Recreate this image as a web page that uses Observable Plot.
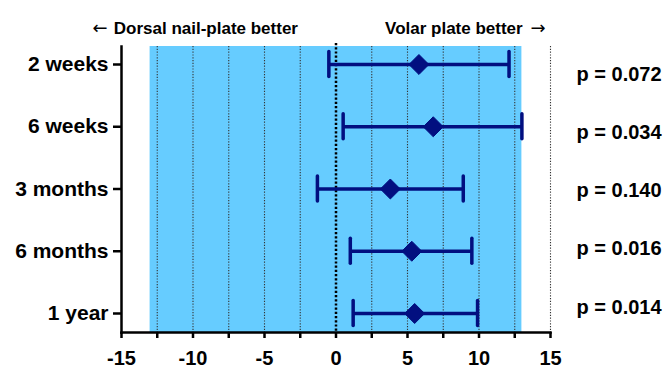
<!DOCTYPE html>
<html>
<head>
<meta charset="utf-8">
<script src="https://cdn.jsdelivr.net/npm/d3@7"></script>
<script src="https://cdn.jsdelivr.net/npm/@observablehq/plot@0.6"></script>
<style>
  html, body { margin: 0; padding: 0; background: #fff; }
</style>
</head>
<body>
<div id="chart"></div>
<script>
// ---- data ----
const rows = ["2 weeks", "6 weeks", "3 months", "6 months", "1 year"];
const means = [5.8, 6.8, 3.8, 5.3, 5.5];
const lower = [-0.5, 0.5, -1.3, 1.0, 1.2];
const upper = [12.1, 13.0, 8.9, 9.5, 9.9];
const pValues = ["p = 0.072", "p = 0.034", "p = 0.140", "p = 0.016", "p = 0.014"];
const xTicks = [-15, -12.5, -10, -7.5, -5, -2.5, 0, 2.5, 5, 7.5, 10, 12.5, 15];
const gridLines = [-12.5, -10, -7.5, -5, -2.5, 2.5, 5, 7.5, 10, 12.5, 15];
const shadedRange = [-13, 13];
const headers = ["Dorsal nail-plate better", "Volar plate better"];
const arrows = ["\u2190", "\u2192"];

const data = rows.map((label, i) => ({ i, label, mean: means[i], lo: lower[i], hi: upper[i] }));

const navy = "#020f80";
const font = "'Liberation Sans', Arial, sans-serif";
const headerStyle = { frameAnchor: "top", dy: -25, text: d => d, fontSize: 17, fontWeight: "bold", fill: "#000" };
const arrowStyle = { frameAnchor: "top", dy: -25, text: d => d, fontSize: 18, fontFamily: "DejaVu Sans", fontWeight: "normal", fill: "#000" };

const chart = Plot.plot({
  width: 666,
  height: 368,
  marginLeft: 121,
  marginRight: 116,
  marginTop: 46,
  marginBottom: 36,
  style: { fontFamily: font, fontWeight: "bold", fontSize: "20px", color: "#000", background: "#fff" },
  x: { domain: [-15, 15], axis: null },
  y: { domain: [0, 4], range: [64, 313], axis: null },
  marks: [
    Plot.rectX([shadedRange], { x1: d => d[0], x2: d => d[1], fill: "#66ccff" }),
    Plot.ruleX(gridLines, { stroke: "#333", strokeWidth: 1.1, strokeDasharray: "1.2,1.6" }),
    Plot.ruleX([0], { stroke: "#000", strokeWidth: 2.5, strokeDasharray: "2.2,2", insetTop: -3 }),
    Plot.frame({ anchor: "left", stroke: "#000", strokeWidth: 2.5 }),
    Plot.frame({ anchor: "bottom", stroke: "#000", strokeWidth: 2.5 }),
    Plot.axisX(xTicks, {
      label: null, tickSize: 6, tickPadding: 12, strokeWidth: 2.5, fontSize: 20, fontWeight: "bold",
      tickFormat: d => (d % 5 === 0 ? String(d) : "")
    }),
    Plot.axisY(d3.range(rows.length), {
      label: null, tickSize: 8, tickPadding: 5, strokeWidth: 2.5, fontSize: 21, fontWeight: "bold",
      tickFormat: i => rows[i]
    }),
    // error bars
    Plot.ruleY(data, { y: "i", x1: "lo", x2: "hi", stroke: navy, strokeWidth: 3.5 }),
    Plot.ruleX(data, { x: "lo", y1: d => d.i - 0.2, y2: d => d.i + 0.2, stroke: navy, strokeWidth: 3.5, strokeLinecap: "round" }),
    Plot.ruleX(data, { x: "hi", y1: d => d.i - 0.2, y2: d => d.i + 0.2, stroke: navy, strokeWidth: 3.5, strokeLinecap: "round" }),
    Plot.dot(data, { x: "mean", y: "i", symbol: "diamond2", r: 9, fill: navy, stroke: navy, strokeWidth: 1 }),
    // p-values on the right
    Plot.text(pValues, {
      x: () => 15, y: (d, i) => 0.16 + i * 0.935, text: d => d, dx: 26,
      textAnchor: "start", fontSize: 20, fontWeight: "bold", fill: "#000"
    }),
    // headers
    Plot.text([arrows[0]], { ...arrowStyle, x: -17.03, textAnchor: "start" }),
    Plot.text([headers[0]], { ...headerStyle, x: -2.66, textAnchor: "end" }),
    Plot.text([headers[1]], { ...headerStyle, x: 3.43, textAnchor: "start" }),
    Plot.text([arrows[1]], { ...arrowStyle, x: 14.65, textAnchor: "end" })
  ]
});

document.getElementById("chart").appendChild(chart);
</script>
</body>
</html>
